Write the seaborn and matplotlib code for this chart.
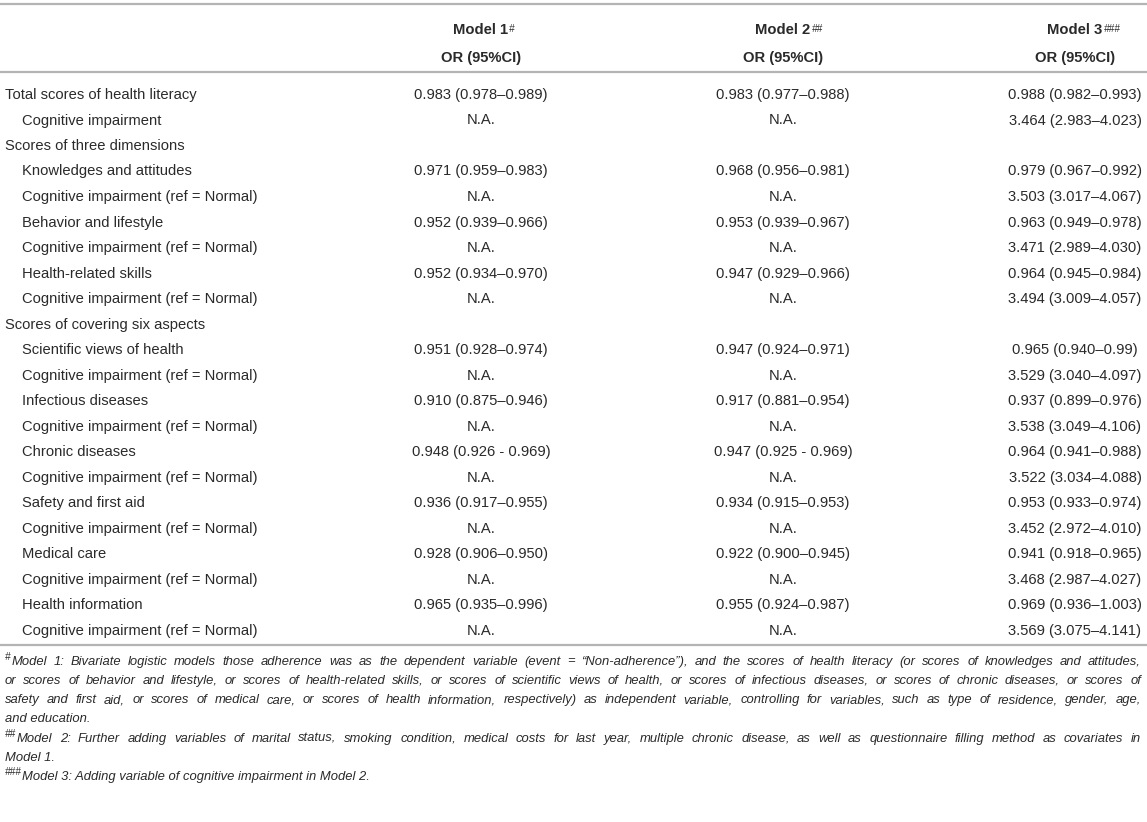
import numpy as np
import pandas as pd
import matplotlib.pyplot as plt
import seaborn as sns

# table content
row_labels = ['Total scores of health literacy', 'Cognitive impairment',
              'Scores of three dimensions',
              'Knowledges and attitudes', 'Cognitive impairment (ref = Normal)',
              'Behavior and lifestyle', 'Cognitive impairment (ref = Normal)',
              'Health-related skills', 'Cognitive impairment (ref = Normal)',
              'Scores of covering six aspects',
              'Scientific views of health', 'Cognitive impairment (ref = Normal)',
              'Infectious diseases', 'Cognitive impairment (ref = Normal)',
              'Chronic diseases', 'Cognitive impairment (ref = Normal)',
              'Safety and first aid', 'Cognitive impairment (ref = Normal)',
              'Medical care', 'Cognitive impairment (ref = Normal)',
              'Health information', 'Cognitive impairment (ref = Normal)']
row_indent = [0, 1, 0, 1, 1, 1, 1, 1, 1, 0, 1, 1, 1, 1, 1, 1, 1, 1, 1, 1, 1, 1]
model1 = ['0.983 (0.978–0.989)', 'N.A.', '',
          '0.971 (0.959–0.983)', 'N.A.', '0.952 (0.939–0.966)', 'N.A.',
          '0.952 (0.934–0.970)', 'N.A.', '',
          '0.951 (0.928–0.974)', 'N.A.', '0.910 (0.875–0.946)', 'N.A.',
          '0.948 (0.926 - 0.969)', 'N.A.', '0.936 (0.917–0.955)', 'N.A.',
          '0.928 (0.906–0.950)', 'N.A.', '0.965 (0.935–0.996)', 'N.A.']
model2 = ['0.983 (0.977–0.988)', 'N.A.', '',
          '0.968 (0.956–0.981)', 'N.A.', '0.953 (0.939–0.967)', 'N.A.',
          '0.947 (0.929–0.966)', 'N.A.', '',
          '0.947 (0.924–0.971)', 'N.A.', '0.917 (0.881–0.954)', 'N.A.',
          '0.947 (0.925 - 0.969)', 'N.A.', '0.934 (0.915–0.953)', 'N.A.',
          '0.922 (0.900–0.945)', 'N.A.', '0.955 (0.924–0.987)', 'N.A.']
model3 = ['0.988 (0.982–0.993)', '3.464 (2.983–4.023)', '',
          '0.979 (0.967–0.992)', '3.503 (3.017–4.067)',
          '0.963 (0.949–0.978)', '3.471 (2.989–4.030)',
          '0.964 (0.945–0.984)', '3.494 (3.009–4.057)', '',
          '0.965 (0.940–0.99)', '3.529 (3.040–4.097)',
          '0.937 (0.899–0.976)', '3.538 (3.049–4.106)',
          '0.964 (0.941–0.988)', '3.522 (3.034–4.088)',
          '0.953 (0.933–0.974)', '3.452 (2.972–4.010)',
          '0.941 (0.918–0.965)', '3.468 (2.987–4.027)',
          '0.969 (0.936–1.003)', '3.569 (3.075–4.141)']
col_headers = ['Model 1', 'Model 2', 'Model 3']
col_marks = ['#', '##', '###']
sub_header = 'OR (95%CI)'

# footnotes: (mark, text, justified)
foot_lines = [
    ('#', 'Model 1: Bivariate logistic models those adherence was as the dependent variable (event = “Non-adherence”), and the scores of health literacy (or scores of knowledges and attitudes,', True),
    ('', 'or scores of behavior and lifestyle, or scores of health-related skills, or scores of scientific views of health, or scores of infectious diseases, or scores of chronic diseases, or scores of', True),
    ('', 'safety and first aid, or scores of medical care, or scores of health information, respectively) as independent variable, controlling for variables, such as type of residence, gender, age,', True),
    ('', 'and education.', False),
    ('##', 'Model 2: Further adding variables of marital status, smoking condition, medical costs for last year, multiple chronic disease, as well as questionnaire filling method as covariates in', True),
    ('', 'Model 1.', False),
    ('###', 'Model 3: Adding variable of cognitive impairment in Model 2.', False),
]

table = pd.DataFrame({'label': row_labels, 'indent': row_indent,
                      'Model 1': model1, 'Model 2': model2, 'Model 3': model3})

#%%
sns.set_theme(style='white')
plt.rcParams['font.family'] = ['Liberation Sans', 'DejaVu Sans']

txt_col = '#2a2a2a'
line_col = '#b4b4b4'
fs = 10.6
fs_foot = 9.4
fs_mark = 7.2

fig = plt.figure(figsize=(11.47, 8.22), dpi=100)
ax = fig.add_axes([0, 0, 1, 1])
ax.set_xlim(0, 1147)
ax.set_ylim(822, 0)
ax.axis('off')

col_x = [481, 783, 1075]
x_left = 5
indent_px = 17
y_first = 99
dy = 25.5

# rules
y_bottom = y_first + (len(table) - 1) * dy + 10
ax.hlines([4, 72, y_bottom], 0, 1147, color=line_col, lw=1.6)

# header
for x, h, m in zip(col_x, col_headers, col_marks):
    t = ax.text(x, 34, h, ha='center', va='baseline', fontsize=fs,
                fontweight='bold', color=txt_col)
    ax.annotate(m, xy=(1, 0.95), xycoords=t, xytext=(0.5, 0),
                textcoords='offset points', ha='left', va='top',
                fontsize=fs_mark, style='italic', color=txt_col)
    ax.text(x, 62, sub_header, ha='center', va='baseline', fontsize=fs,
            fontweight='bold', color=txt_col)

# body
for i, row in table.iterrows():
    y = y_first + i * dy
    ax.text(x_left + row['indent'] * indent_px, y, row['label'], ha='left',
            va='baseline', fontsize=fs, color=txt_col)
    for x, c in zip(col_x, col_headers):
        ax.text(x, y, row[c], ha='center', va='baseline', fontsize=fs,
                color=txt_col)

# footnotes
fig.canvas.draw()
renderer = fig.canvas.get_renderer()
x_right = 1141
y_foot = y_bottom + 20
foot_dy = 19.3
for k, (mark, line, just) in enumerate(foot_lines):
    y = y_foot + k * foot_dy
    x0 = x_left
    if mark:
        tm = ax.text(x0, y - 5, mark, ha='left', va='baseline', fontsize=fs_mark,
                     style='italic', color=txt_col)
        x0 += tm.get_window_extent(renderer).width + 0.5
    if not just:
        ax.text(x0, y, line, ha='left', va='baseline', fontsize=fs_foot,
                style='italic', color=txt_col)
        continue
    words = line.split(' ')
    arts = [ax.text(0, y, w, ha='left', va='baseline', fontsize=fs_foot,
                    style='italic', color=txt_col) for w in words]
    widths = [a.get_window_extent(renderer).width for a in arts]
    gap = (x_right - x0 - sum(widths)) / (len(words) - 1)
    xx = x0
    for a, w in zip(arts, widths):
        a.set_x(xx)
        xx += w + gap

plt.savefig('out.png', format='png', dpi=100)
